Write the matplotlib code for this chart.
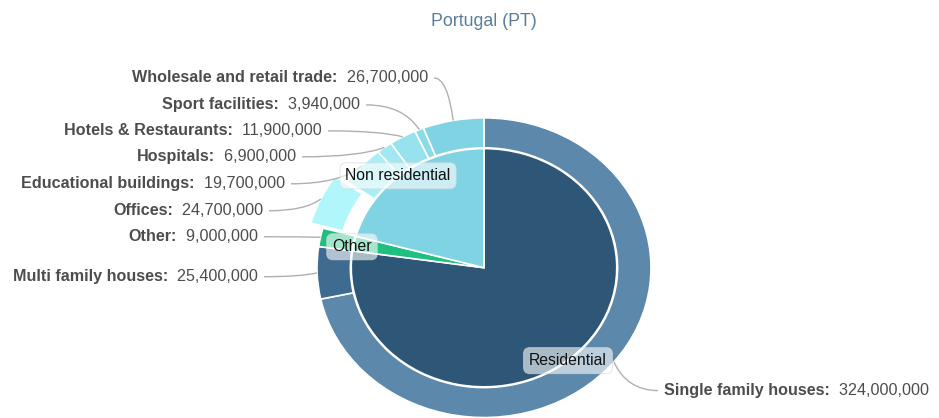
"""Portugal (PT) floor area: nested pie (residential / non residential / other)."""

import matplotlib
matplotlib.use("Agg")
import matplotlib.pyplot as plt
from matplotlib.path import Path as MPath
import matplotlib.patches as mpatches
import numpy as np

# ---------------------------------------------------------------------------
# Data
# ---------------------------------------------------------------------------
inner_names = ["Residential", "Other", "Non residential"]
outer_names = [
    "Single family houses", "Multi family houses", "Other", "Offices",
    "Educational buildings", "Hospitals", "Hotels & Restaurants",
    "Sport facilities", "Wholesale and retail trade",
]
outer_values = [324_000_000, 25_400_000, 9_000_000, 24_700_000,
                19_700_000, 6_900_000, 11_900_000, 3_940_000, 26_700_000]
outer_group = [0, 0, 1, 2, 2, 2, 2, 2, 2]   # index into inner_names
inner_values = [sum(v for v, g in zip(outer_values, outer_group) if g == i)
                for i in range(len(inner_names))]

# ---------------------------------------------------------------------------
# Style
# ---------------------------------------------------------------------------
inner_colors = ["#2d5677", "#1fbf80", "#7fd3e2"]
outer_colors = ["#5b88ab", "#3f6b91", "#1fbf80", "#b0f6fb", "#a8eef6",
                "#a0e8f2", "#96e2ee", "#8adbe8", "#7fd3e2"]
outer_explode = [0, 0, 0, 0.08, 0, 0, 0, 0, 0]

FONT = "Liberation Sans"
LABEL_COLOR = "#4d4d4d"
LINE_COLOR = "#b0b0b0"
LABEL_SIZE = 11.6

W, H = 939, 418
CX, CY = 484, 268      # pie centre, pixels from top-left
RX, RY = 167, 150      # outer radius in pixels (pie is a bit stretched)


def px(x, y):
    """Pixel position -> data coordinates (radius units)."""
    return (x - CX) / RX, (CY - y) / RY


# outer label anchors (pixel x of the text end/start, pixel y), side
label_anchor = [
    (664, 391, "right"), (258, 277, "left"), (258, 237, "left"),
    (263, 211, "left"), (285, 184, "left"), (296, 157, "left"),
    (322, 131, "left"), (360, 105, "left"), (428, 78, "left"),
]
inner_label_pos = [(568, 361), (352, 247), (398, 176)]

fig = plt.figure(figsize=(W / 100, H / 100), dpi=100)
ax = fig.add_axes([0, 0, 1, 1])

outer, _ = ax.pie(
    outer_values, radius=1.0, colors=outer_colors, explode=outer_explode,
    startangle=90, counterclock=False,
    wedgeprops=dict(width=0.2, edgecolor="white", linewidth=1.2),
)
inner, _ = ax.pie(
    inner_values, radius=0.795, colors=inner_colors,
    startangle=90, counterclock=False,
    wedgeprops=dict(edgecolor="white", linewidth=1.2),
)

ax.set_aspect("auto")
ax.set_xlim(px(0, 0)[0], px(W, 0)[0])
ax.set_ylim(px(0, H)[1] - 0.003, px(0, 0)[1])
ax.set_axis_off()

fig.text(0.5155, 1 - 22 / H, "Portugal (PT)", ha="center", va="center",
         fontsize=12.8, color="#5a7d9c", family=FONT)

renderer = fig.canvas.get_renderer()
inv = ax.transData.inverted()

for w, name, val, (lx, ly, side) in zip(outer, outer_names, outer_values, label_anchor):
    # label: bold name + regular value
    x0, y0 = px(lx, ly)
    value_txt = f"  {val:,}"
    if side == "left":
        t_val = ax.text(x0, y0, value_txt, ha="right", va="center", fontsize=LABEL_SIZE,
                        color=LABEL_COLOR, family=FONT)
        bb = t_val.get_window_extent(renderer)
        nx = inv.transform((bb.x0, 0))[0]
        ax.text(nx, y0, name + ":", ha="right", va="center", fontsize=LABEL_SIZE,
                fontweight="bold", color=LABEL_COLOR, family=FONT)
        sx, sy = px(lx + 6, ly)
    else:
        t_name = ax.text(x0, y0, name + ":", ha="left", va="center", fontsize=LABEL_SIZE,
                         fontweight="bold", color=LABEL_COLOR, family=FONT)
        bb = t_name.get_window_extent(renderer)
        nx = inv.transform((bb.x1, 0))[0]
        ax.text(nx, y0, value_txt, ha="left", va="center", fontsize=LABEL_SIZE,
                color=LABEL_COLOR, family=FONT)
        sx, sy = px(lx - 6, ly)

    # connector to the middle of the slice's outer edge
    mid = np.deg2rad((w.theta1 + w.theta2) / 2)
    tx = w.center[0] + w.r * np.cos(mid)
    ty = w.center[1] + w.r * np.sin(mid)
    ctrl = (sx + 0.7 * (tx - sx), sy)
    path = MPath([(sx, sy), ctrl, (tx, ty)],
                 [MPath.MOVETO, MPath.CURVE3, MPath.CURVE3])
    ax.add_patch(mpatches.PathPatch(path, fill=False, edgecolor=LINE_COLOR,
                                    linewidth=1.0))

box = dict(boxstyle="round,pad=0.35,rounding_size=0.4",
           facecolor=(1, 1, 1, 0.6), edgecolor=(0.85, 0.85, 0.85, 0.6),
           linewidth=0.8)
for name, (lx, ly) in zip(inner_names, inner_label_pos):
    x0, y0 = px(lx, ly)
    ax.text(x0, y0, name, ha="center", va="center", fontsize=11.3,
            color="#111111", family=FONT, bbox=box)

fig.savefig("out.png", dpi=100)
